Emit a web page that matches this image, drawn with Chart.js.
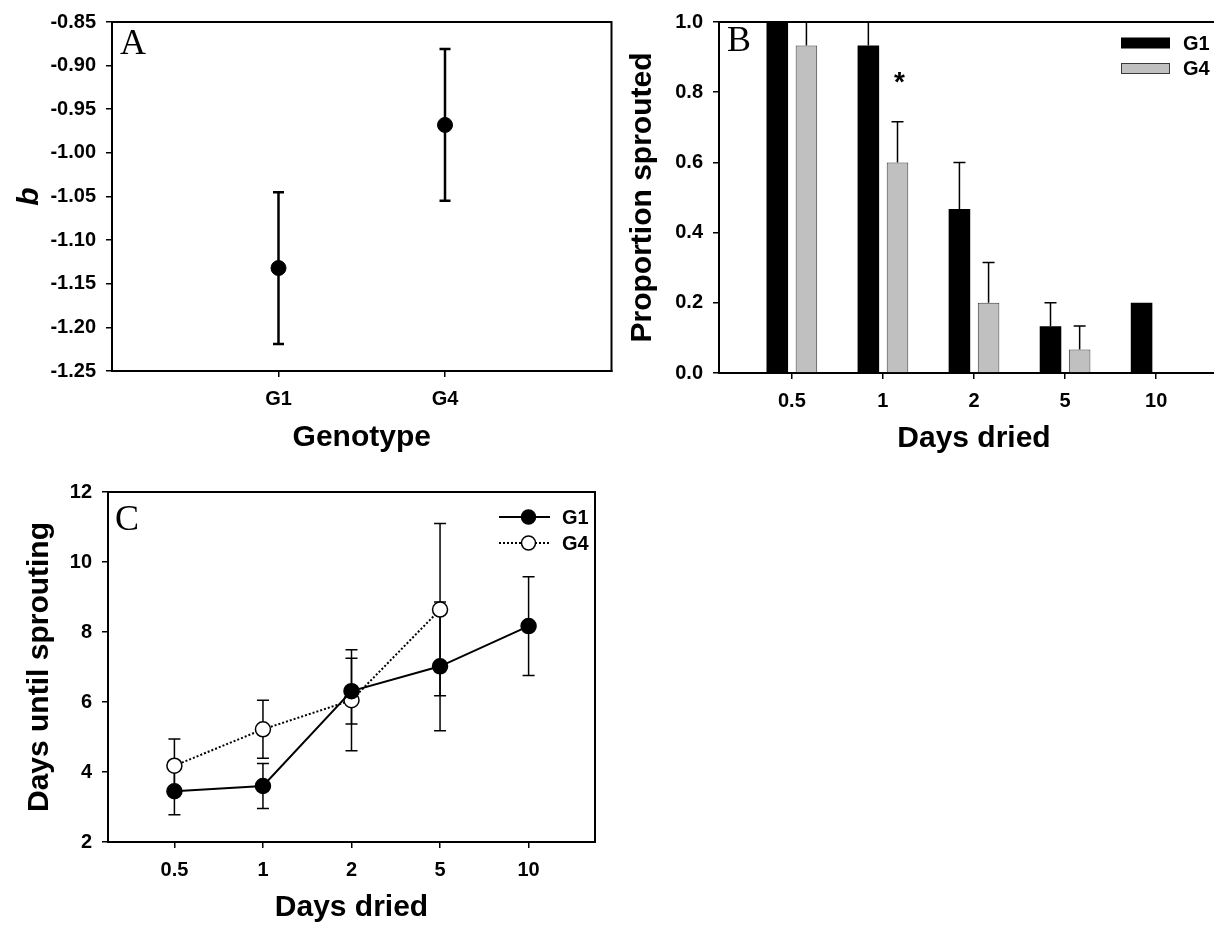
<!DOCTYPE html>
<html><head><meta charset="utf-8">
<script src="https://cdn.jsdelivr.net/npm/chart.js@4.4.1/dist/chart.umd.min.js"></script>
<style>
html,body{margin:0;padding:0;background:#fff;overflow:hidden;width:1214px;height:929px;}
canvas{position:absolute;}
</style></head><body>
<canvas id="cA" width="620" height="456" style="left:0px;top:0px;width:620px;height:456px"></canvas>
<canvas id="cB" width="635" height="457" style="left:600px;top:0px;width:635px;height:457px"></canvas>
<canvas id="cC" width="604" height="456" style="left:0px;top:470px;width:604px;height:456px"></canvas>
<script>
// ---------- data ----------
const genotypes = ['G1', 'G4'];
const bValues = [-1.132, -0.968];
const bErrors = [0.087, 0.087];
const yTicksA = [-1.25, -1.20, -1.15, -1.10, -1.05, -1.00, -0.95, -0.90, -0.85];

const daysDried = ['0.5', '1', '2', '5', '10'];
const propG1 = [1.0, 0.933, 0.467, 0.133, 0.2];
const propG1Err = [0, 0.067, 0.133, 0.067, 0];
const propG4 = [0.933, 0.6, 0.2, 0.067, 0];
const propG4Err = [0.067, 0.116, 0.115, 0.067, 0];
const yTicksB = [0, 0.2, 0.4, 0.6, 0.8, 1.0];
const starLevel = 0.85; // "*" above G4 at 1 day

const sproutG1 = [3.45, 3.6, 6.31, 7.02, 8.17];
const sproutG1Err = [0.67, 0.64, 0.94, 1.84, 1.41];
const sproutG4 = [4.18, 5.22, 6.05, 8.64, null];
const sproutG4Err = [0.76, 0.83, 1.44, 2.46, null];
const yTicksC = [2, 4, 6, 8, 10, 12];

// ---------- styling helpers ----------
const SANS = '"Liberation Sans", Arial, Helvetica, sans-serif';
const SERIF = '"Liberation Serif", "Times New Roman", serif';
Chart.defaults.color = '#000';
Chart.defaults.font.family = SANS;
Chart.defaults.animation = false;

const tickFont = {family: SANS, size: 20, weight: 'bold'};
const titleFont = {family: SANS, size: 30, weight: 'bold'};

function axisGrid() {
  return {display: true, drawOnChartArea: false, drawTicks: true, tickLength: 6, color: '#000', lineWidth: 1.5};
}
function axisBorder() { return {display: true, color: '#000', width: 2}; }

const framePlugin = {
  id: 'frame',
  afterDraw(chart) {
    const {ctx, chartArea: a} = chart;
    ctx.save();
    ctx.strokeStyle = '#000'; ctx.lineWidth = 2;
    ctx.beginPath();
    ctx.moveTo(a.left - 1, a.top); ctx.lineTo(a.right, a.top); ctx.lineTo(a.right, a.bottom + 1);
    ctx.stroke();
    ctx.restore();
  }
};

const panelLabel = {
  id: 'panelLabel',
  afterDraw(chart, args, opts) {
    const {ctx, chartArea: a} = chart;
    ctx.save();
    ctx.font = '36px ' + SERIF;
    ctx.fillStyle = '#000';
    ctx.textBaseline = 'alphabetic';
    ctx.textAlign = 'left';
    ctx.fillText(opts.text, a.left + opts.dx, a.top + opts.dy);
    ctx.restore();
  }
};

function drawErrors(chart, opts) {
  const ys = chart.scales.y;
  const {ctx} = chart;
  chart.data.datasets.forEach((ds, di) => {
    const errs = ds.errors;
    if (!errs) return;
    const meta = chart.getDatasetMeta(di);
    meta.data.forEach((el, i) => {
      const p = ds.data[i];
      const e = errs[i];
      if (!p || p.y == null || e == null || e === 0) return;
      const x = el.x;
      const yTop = ys.getPixelForValue(p.y + e);
      const yBot = opts.upOnly ? ys.getPixelForValue(p.y) : ys.getPixelForValue(p.y - e);
      ctx.save();
      ctx.strokeStyle = '#000';
      ctx.lineWidth = opts.lineWidth;
      ctx.beginPath();
      ctx.moveTo(x, yTop); ctx.lineTo(x, yBot);
      ctx.moveTo(x - opts.cap, yTop); ctx.lineTo(x + opts.cap, yTop);
      if (!opts.upOnly) { ctx.moveTo(x - opts.cap, yBot); ctx.lineTo(x + opts.cap, yBot); }
      ctx.stroke();
      ctx.restore();
    });
  });
}
const errorBars = {
  id: 'errorBars',
  beforeDatasetsDraw(chart, args, opts) { if (opts.layer === 'before') drawErrors(chart, opts); },
  afterDatasetsDraw(chart, args, opts) { if (opts.layer === 'after') drawErrors(chart, opts); }
};

// ---------- Panel A ----------
new Chart(document.getElementById('cA'), {
  type: 'scatter',
  data: {
    datasets: [{
      label: 'b',
      data: genotypes.map((g, i) => ({x: i + 1, y: bValues[i]})),
      errors: bErrors,
      pointRadius: 7.5, pointHoverRadius: 7.5,
      pointBackgroundColor: '#000', pointBorderColor: '#000', pointBorderWidth: 1,
      showLine: false
    }]
  },
  options: {
    responsive: false,
    layout: {padding: {top: 20, right: 6, left: 0, bottom: 0}},
    plugins: {
      legend: {display: false}, tooltip: {enabled: false},
      errorBars: {layer: 'before', lineWidth: 2.5, cap: 5.5, upOnly: false},
      panelLabel: {text: 'A', dx: 8, dy: 32}
    },
    scales: {
      x: {
        type: 'linear', min: 0, max: genotypes.length + 1,
        afterBuildTicks(s) { s.ticks = genotypes.map((g, i) => ({value: i + 1})); },
        afterFit(s) { s.height = 85; },
        ticks: {font: tickFont, padding: 10, maxRotation: 0, autoSkip: false,
                callback: v => genotypes[v - 1]},
        grid: axisGrid(), border: axisBorder(),
        title: {display: true, text: 'Genotype', font: titleFont, padding: {top: 0, bottom: 0}}
      },
      y: {
        type: 'linear', min: -1.25, max: -0.85,
        afterBuildTicks(s) { s.ticks = yTicksA.map(v => ({value: v})); },
        afterFit(s) { s.width = 112; },
        ticks: {font: tickFont, padding: 10, callback: v => Number(v).toFixed(2)},
        grid: axisGrid(), border: axisBorder(),
        title: {display: true, text: 'b', font: {family: SANS, size: 30, weight: 'bold', style: 'italic'},
                padding: {top: 12, bottom: 0}}
      }
    }
  },
  plugins: [errorBars, framePlugin, panelLabel]
});

// ---------- Panel B ----------
const legendB = {
  id: 'legendB',
  afterDraw(chart) {
    const {ctx, chartArea: a} = chart;
    ctx.save();
    chart.data.datasets.forEach((ds, i) => {
      const cy = a.top + 21 + i * 25.5;
      ctx.fillStyle = ds.backgroundColor;
      ctx.fillRect(a.right - 108, cy - 5.5, 49, 11);
      if (ds.legendBorder) {
        ctx.strokeStyle = ds.legendBorder; ctx.lineWidth = 1;
        ctx.strokeRect(a.right - 108 + 0.5, cy - 5.5 + 0.5, 48, 10);
      }
      ctx.fillStyle = '#000';
      ctx.font = 'bold 20px ' + SANS;
      ctx.textBaseline = 'middle'; ctx.textAlign = 'left';
      ctx.fillText(ds.label, a.right - 46, cy + 1);
    });
    // significance star
    const el = chart.getDatasetMeta(1).data[1];
    const y = chart.scales.y.getPixelForValue(starLevel);
    ctx.font = 'bold 28px ' + SANS;
    ctx.textAlign = 'center'; ctx.textBaseline = 'alphabetic';
    ctx.fillText('*', el.x + 2, y + 16);
    ctx.restore();
  }
};

new Chart(document.getElementById('cB'), {
  type: 'bar',
  data: {
    datasets: [{
      label: 'G1',
      data: daysDried.map((d, i) => ({x: i, y: propG1[i]})),
      errors: propG1Err,
      backgroundColor: '#000', borderColor: '#000', borderWidth: 0
    }, {
      label: 'G4',
      data: daysDried.map((d, i) => ({x: i, y: propG4[i]})),
      errors: propG4Err,
      backgroundColor: '#c0c0c0', borderColor: '#3a3a3a', legendBorder: '#3a3a3a',
      borderWidth: c => (c.raw && c.raw.y > 0 ? 1 : 0)
    }]
  },
  options: {
    responsive: false,
    categoryPercentage: 0.64,
    barPercentage: 0.74,
    layout: {padding: {top: 21, right: 6, left: 0, bottom: 0}},
    plugins: {
      legend: {display: false}, tooltip: {enabled: false},
      errorBars: {layer: 'before', lineWidth: 1.5, cap: 6, upOnly: true},
      panelLabel: {text: 'B', dx: 8, dy: 29}
    },
    scales: {
      x: {
        type: 'linear', min: -0.8, max: daysDried.length - 1 + 0.8, offset: false,
        afterBuildTicks(s) { s.ticks = daysDried.map((d, i) => ({value: i})); },
        afterFit(s) { s.height = 84; },
        ticks: {font: tickFont, padding: 10, maxRotation: 0, autoSkip: false,
                callback: v => daysDried[v]},
        grid: Object.assign(axisGrid(), {offset: false}), border: axisBorder(),
        title: {display: true, text: 'Days dried', font: titleFont, padding: {top: 0, bottom: 0}}
      },
      y: {
        type: 'linear', min: 0, max: 1,
        afterBuildTicks(s) { s.ticks = yTicksB.map(v => ({value: v})); },
        afterFit(s) { s.width = 119; },
        ticks: {font: tickFont, padding: 10, callback: v => Number(v).toFixed(1)},
        grid: axisGrid(), border: axisBorder(),
        title: {display: true, text: 'Proportion sprouted', font: titleFont, padding: {top: 25, bottom: 0}}
      }
    }
  },
  plugins: [errorBars, framePlugin, panelLabel, legendB]
});

// ---------- Panel C ----------
const legendC = {
  id: 'legendC',
  afterDraw(chart) {
    const {ctx, chartArea: a} = chart;
    ctx.save();
    chart.data.datasets.forEach((ds, i) => {
      const cy = a.top + 25 + i * 26;
      const x0 = a.right - 96, x1 = a.right - 45, xm = (x0 + x1) / 2 + 4;
      ctx.strokeStyle = '#000'; ctx.lineWidth = ds.borderWidth;
      ctx.setLineDash(ds.borderDash || []);
      ctx.beginPath(); ctx.moveTo(x0, cy); ctx.lineTo(x1, cy); ctx.stroke();
      ctx.setLineDash([]);
      ctx.beginPath(); ctx.arc(xm, cy, 7, 0, Math.PI * 2);
      ctx.fillStyle = ds.pointBackgroundColor; ctx.fill();
      ctx.lineWidth = 1.5; ctx.stroke();
      ctx.fillStyle = '#000';
      ctx.font = 'bold 20px ' + SANS;
      ctx.textBaseline = 'middle'; ctx.textAlign = 'left';
      ctx.fillText(ds.label, a.right - 33, cy + 1);
    });
    ctx.restore();
  }
};

new Chart(document.getElementById('cC'), {
  type: 'line',
  data: {
    datasets: [{
      label: 'G1',
      data: daysDried.map((d, i) => ({x: i, y: sproutG1[i]})),
      errors: sproutG1Err,
      borderColor: '#000', borderWidth: 2,
      pointRadius: 7.5, pointHoverRadius: 7.5,
      pointBackgroundColor: '#000', pointBorderColor: '#000', pointBorderWidth: 1.5
    }, {
      label: 'G4',
      data: daysDried.map((d, i) => ({x: i, y: sproutG4[i]})),
      errors: sproutG4Err,
      borderColor: '#000', borderWidth: 2, borderDash: [2, 2],
      pointRadius: 7.5, pointHoverRadius: 7.5,
      pointBackgroundColor: '#fff', pointBorderColor: '#000', pointBorderWidth: 1.5
    }]
  },
  options: {
    responsive: false,
    layout: {padding: {top: 17, right: 6, left: 0, bottom: 0}},
    plugins: {
      legend: {display: false}, tooltip: {enabled: false},
      errorBars: {layer: 'before', lineWidth: 1.5, cap: 6, upOnly: false},
      panelLabel: {text: 'C', dx: 7, dy: 38}
    },
    scales: {
      x: {
        type: 'linear', min: -0.75, max: daysDried.length - 1 + 0.75,
        afterBuildTicks(s) { s.ticks = daysDried.map((d, i) => ({value: i})); },
        afterFit(s) { s.height = 84; },
        ticks: {font: tickFont, padding: 10, maxRotation: 0, autoSkip: false,
                callback: v => daysDried[v]},
        grid: axisGrid(), border: axisBorder(),
        title: {display: true, text: 'Days dried', font: titleFont, padding: {top: 0, bottom: 0}}
      },
      y: {
        type: 'linear', min: 2, max: 12,
        afterBuildTicks(s) { s.ticks = yTicksC.map(v => ({value: v})); },
        afterFit(s) { s.width = 108; },
        ticks: {font: tickFont, padding: 10, callback: v => String(v)},
        grid: axisGrid(), border: axisBorder(),
        title: {display: true, text: 'Days until sprouting', font: titleFont, padding: {top: 22, bottom: 0}}
      }
    }
  },
  plugins: [errorBars, framePlugin, panelLabel, legendC]
});
</script>
</body></html>
